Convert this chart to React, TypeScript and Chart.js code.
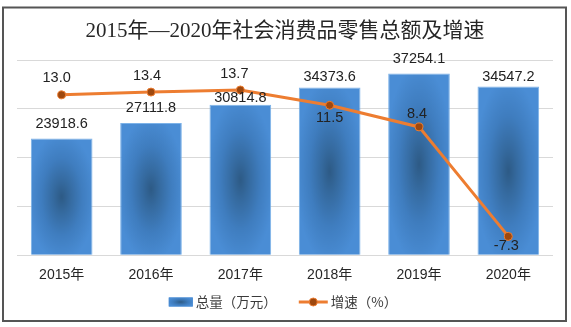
import React, { useEffect, useRef } from "react";
import { Chart, registerables } from "chart.js";

Chart.register(...registerables);

const years = ["2015年", "2016年", "2017年", "2018年", "2019年", "2020年"];
const totals = [23918.6, 27111.8, 30814.8, 34373.6, 37254.1, 34547.2];
const growth = [13.0, 13.4, 13.7, 11.5, 8.4, -7.3];
const totalTicks = [0, 10000, 20000, 30000, 40000];
const seriesNames = ["总量（万元）", "增速（%）"];
const titleText = "2015年—2020年社会消费品零售总额及增速";

// label nudges (style only)
const barLabelDy = [-14.5, -14.5, -7, -10, -14, -10];
const lineLabelDy = [-17, -16, -16, 13, -13, 9.5];
const lineLabelDx = [-5, -4, -6, 0, -2, -2];

const BAR_PCT = 0.69;
const ORANGE = "#ED7D31";
const DOT = "#9E480E";
const SANS = '"Liberation Sans", "Noto Sans CJK SC", sans-serif';

function addStops(g: CanvasGradient) {
  g.addColorStop(0, "#2d5a85");
  g.addColorStop(0.25, "#356a9f");
  g.addColorStop(0.6, "#3f7dbf");
  g.addColorStop(1, "#4a8dd5");
}

function barFill(c: any) {
  const chart = c.chart;
  if (c.type !== "data" || !chart.chartArea || !chart.scales.x) return "#4a8fd6";
  const xs = chart.scales.x;
  const ys = chart.scales.y;
  const i = c.dataIndex;
  const cx = xs.getPixelForValue(i);
  const step = xs.width / years.length;
  const w = Math.max(2, step * BAR_PCT);
  const top = ys.getPixelForValue(c.raw);
  const base = ys.getPixelForValue(0);
  const h = Math.max(2, base - top);
  const pad = 3;
  const off = document.createElement("canvas");
  off.width = Math.ceil(w + pad * 2);
  off.height = Math.ceil(h + pad * 2);
  const o = off.getContext("2d")!;
  o.fillStyle = "#4a8dd5";
  o.fillRect(0, 0, off.width, off.height);
  o.translate(pad + w / 2, pad + h / 2);
  o.scale(w / 2, h / 2);
  const g = o.createRadialGradient(0, 0, 0, 0, 0, 1.1);
  addStops(g);
  o.fillStyle = g;
  o.fillRect(-1.2, -1.2, 2.4, 2.4);
  const pat = chart.ctx.createPattern(off, "no-repeat");
  pat.setTransform(new DOMMatrix([1, 0, 0, 1, cx - w / 2 - pad, top - pad]));
  return pat;
}

const decorPlugin = {
  id: "decor",
  afterDraw(chart: any) {
    const ctx = chart.ctx as CanvasRenderingContext2D;
    const barMeta = chart.getDatasetMeta(0);
    const lineMeta = chart.getDatasetMeta(1);
    ctx.save();
    // data labels
    ctx.font = "14.5px " + SANS;
    ctx.fillStyle = "#222222";
    ctx.textAlign = "center";
    ctx.textBaseline = "middle";
    barMeta.data.forEach((el: any, i: number) => {
      ctx.fillText(totals[i].toFixed(1), el.x, el.y + barLabelDy[i]);
    });
    lineMeta.data.forEach((el: any, i: number) => {
      ctx.fillText(growth[i].toFixed(1), el.x + lineLabelDx[i], el.y + lineLabelDy[i]);
    });

    // legend
    const ly = 302;
    ctx.font = '13.5px "Noto Sans CJK SC", sans-serif';
    const t1 = ctx.measureText(seriesNames[0]).width;
    const t2 = ctx.measureText(seriesNames[1]).width;
    const sw1 = 24, sw2 = 29, gap = 3, itemGap = 22;
    const total = sw1 + gap + t1 + itemGap + sw2 + gap + t2;
    let x = 283 - total / 2;
    // bar swatch
    ctx.save();
    ctx.fillStyle = "#4a8dd5";
    ctx.fillRect(x, ly - 4.5, sw1, 9);
    ctx.translate(x + sw1 / 2, ly);
    ctx.scale(sw1 / 2, 4.5);
    const g = ctx.createRadialGradient(0, 0, 0, 0, 0, 1.1);
    addStops(g);
    ctx.fillStyle = g;
    ctx.fillRect(-1, -1, 2, 2);
    ctx.restore();
    x += sw1 + gap;
    ctx.fillStyle = "#3a3a3a";
    ctx.textAlign = "left";
    ctx.fillText(seriesNames[0], x, ly);
    x += t1 + itemGap;
    // line swatch
    ctx.strokeStyle = ORANGE;
    ctx.lineWidth = 3;
    ctx.beginPath();
    ctx.moveTo(x, ly);
    ctx.lineTo(x + sw2, ly);
    ctx.stroke();
    ctx.beginPath();
    ctx.arc(x + sw2 / 2, ly, 4, 0, Math.PI * 2);
    ctx.fillStyle = DOT;
    ctx.fill();
    ctx.lineWidth = 1;
    ctx.stroke();
    x += sw2 + gap;
    ctx.fillStyle = "#3a3a3a";
    ctx.fillText(seriesNames[1], x, ly);

    // outer border
    ctx.strokeStyle = "#555555";
    ctx.lineWidth = 2;
    ctx.strokeRect(3, 7.5, 563, 313.5);
    ctx.restore();
  },
};

export default function App() {
  const ref = useRef<HTMLCanvasElement>(null);
  useEffect(() => {
    if (!ref.current) return;
    const chart = new Chart(ref.current, {
      type: "bar",
      data: {
        labels: years,
        datasets: [
          {
            type: "bar",
            label: seriesNames[0],
            data: totals,
            yAxisID: "y",
            order: 1,
            backgroundColor: barFill as any,
            borderColor: "rgba(110,170,230,0.9)",
            borderWidth: 1,
            barPercentage: BAR_PCT,
            categoryPercentage: 1,
          },
          {
            type: "line",
            label: seriesNames[1],
            data: growth,
            yAxisID: "y1",
            order: 0,
            borderColor: ORANGE,
            borderWidth: 3,
            pointRadius: 4,
            pointBackgroundColor: DOT,
            pointBorderColor: ORANGE,
            pointBorderWidth: 1,
            tension: 0,
          } as any,
        ],
      },
      options: {
        responsive: false,
        animation: false,
        events: [],
        layout: { padding: { left: 17, right: 18, top: 0, bottom: 31 }, autoPadding: false },
        plugins: {
          legend: { display: false },
          tooltip: { enabled: false },
          title: {
            display: true,
            text: titleText,
            color: "#262626",
            font: { size: 21, family: '"Liberation Serif", "Noto Sans CJK SC", serif', weight: "normal", lineHeight: 1.2 },
            padding: { top: 19, bottom: 15.8 },
          },
        },
        scales: {
          x: {
            grid: { display: false, drawTicks: false },
            border: { display: false },
            ticks: { color: "#262626", font: { size: 14, family: SANS }, padding: 12 },
          },
          y: {
            min: totalTicks[0],
            max: totalTicks[totalTicks.length - 1],
            afterBuildTicks: (axis: any) => {
              axis.ticks = totalTicks.map((v) => ({ value: v }));
            },
            grid: { color: "#d9d9d9", lineWidth: 1, drawTicks: false },
            border: { display: false },
            ticks: { display: false },
          },
          y1: {
            display: false,
            position: "right",
            min: -10,
            max: 18,
          },
        },
      },
      plugins: [decorPlugin],
    });
    return () => chart.destroy();
  }, []);
  return (
    <div style={{ position: "fixed", left: 0, top: 0, width: 571, height: 327, background: "#fff" }}>
      <canvas ref={ref} width={571} height={327} style={{ display: "block" }} />
    </div>
  );
}
